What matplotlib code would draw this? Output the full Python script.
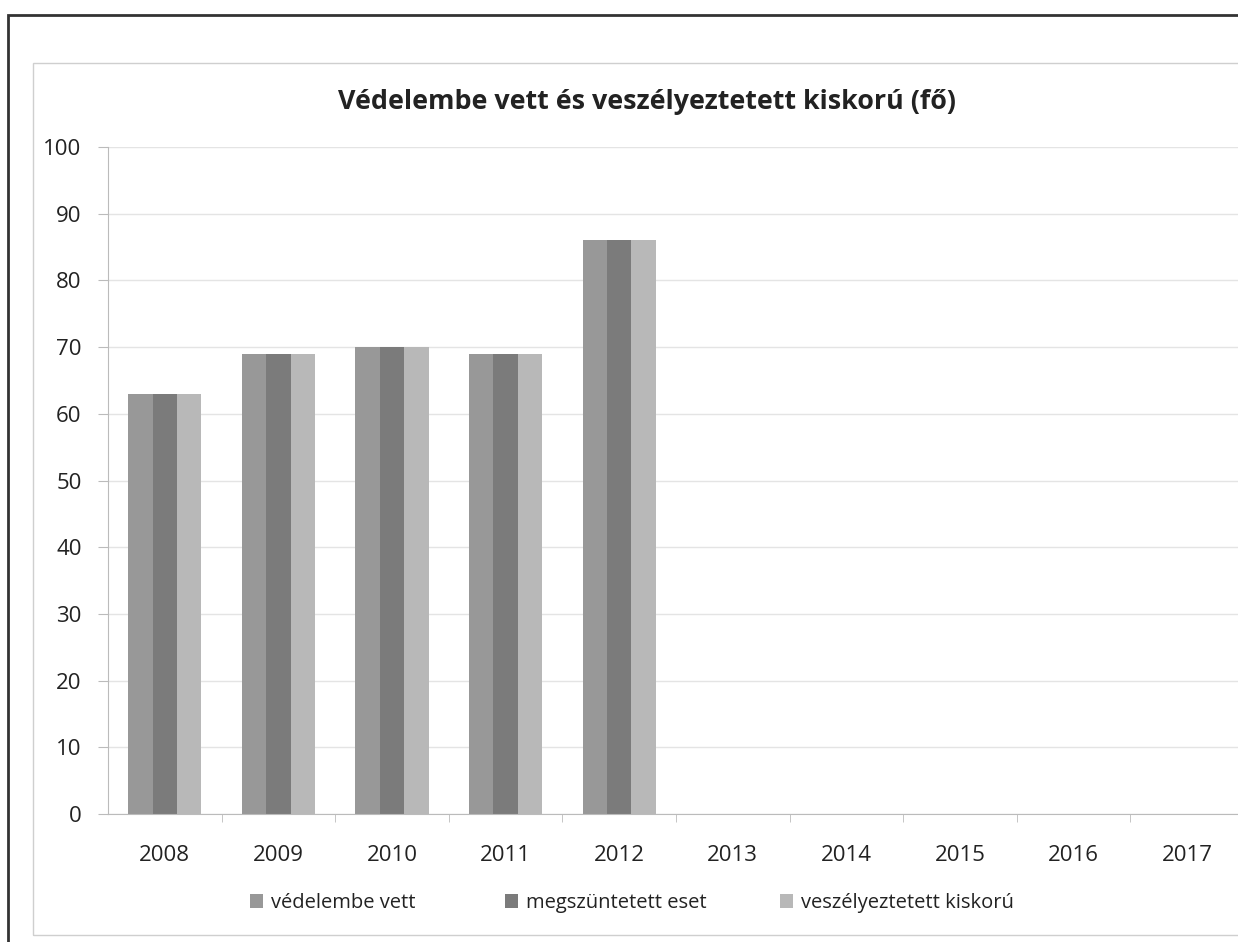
import matplotlib.pyplot as plt
import numpy as np
from matplotlib.patches import Rectangle

years = ['2008', '2009', '2010', '2011', '2012', '2013', '2014', '2015', '2016', '2017']
vedelembe_vett = [63, 69, 70, 69, 86, 0, 0, 0, 0, 0]
megszuntetett_eset = [63, 69, 70, 69, 86, 0, 0, 0, 0, 0]
veszelyeztetett = [63, 69, 70, 69, 86, 0, 0, 0, 0, 0]

series = [
    ('védelembe vett', vedelembe_vett, '#989898'),
    ('megszüntetett eset', megszuntetett_eset, '#7b7b7b'),
    ('veszélyeztetett kiskorú', veszelyeztetett, '#b8b8b8'),
]
# jelmagyarazat bal szele (px)
legend_x = [246, 501, 776]

plt.rcParams['font.family'] = ['Open Sans', 'DejaVu Sans']

fig = plt.figure(figsize=(12.38, 9.42), dpi=100)

# kereteket rajzolunk (szkennelt oldal)
fig.patches.append(Rectangle((8 / 1238, -0.01), 1.1, (942 - 15) / 942 + 0.01,
                             transform=fig.transFigure, fill=False,
                             edgecolor='#333333', linewidth=2))
fig.patches.append(Rectangle((33 / 1238, 7 / 942), 1.1, (935 - 63) / 942,
                             transform=fig.transFigure, fill=False,
                             edgecolor='#cfcfcf', linewidth=1))

ax = fig.add_axes([108 / 1238, 1 - 814 / 942, 1136 / 1238, (814 - 147) / 942])

x = np.arange(len(years))
w = 0.215
bars = []
for i, (name, vals, col) in enumerate(series):
    bars.append(ax.bar(x + (i - 1) * w, vals, width=w, color=col, label=name))

ax.set_xlim(-0.5, len(years) - 0.5)
ax.set_ylim(0, 100)
ax.set_yticks(range(0, 101, 10))
ax.yaxis.grid(True, color='#e4e4e4', linewidth=1)
ax.set_axisbelow(True)

ax.set_xticks(x)
ax.set_xticklabels(years)
ax.set_xticks(np.arange(0.5, len(years) - 0.5, 1), minor=True)
ax.tick_params(axis='x', which='major', length=0, pad=22, labelsize=16, colors='#222222')
ax.tick_params(axis='x', which='minor', length=6, color='#bbbbbb')
ax.tick_params(axis='y', length=7, color='#bbbbbb', pad=12, labelsize=16, labelcolor='#222222')

for s in ['top', 'right']:
    ax.spines[s].set_visible(False)
ax.spines['left'].set_color('#bbbbbb')
ax.spines['bottom'].set_color('#bbbbbb')

fig.text(647 / 1238, 1 - 102 / 942, 'Védelembe vett és veszélyeztetett kiskorú (fő)',
         ha='center', va='center', fontsize=19.4, fontweight='bold', color='#222222')

for b, (name, _, _), lx in zip(bars, series, legend_x):
    fig.legend([b], [name], loc='center left',
               bbox_to_anchor=(lx / 1238, 1 - 903 / 942),
               frameon=False, labelcolor='#222222',
               fontsize=14.5, handlelength=0.65, handleheight=0.65,
               handletextpad=0.4, borderaxespad=0, borderpad=0.2)

fig.savefig('out.png', dpi=100)
